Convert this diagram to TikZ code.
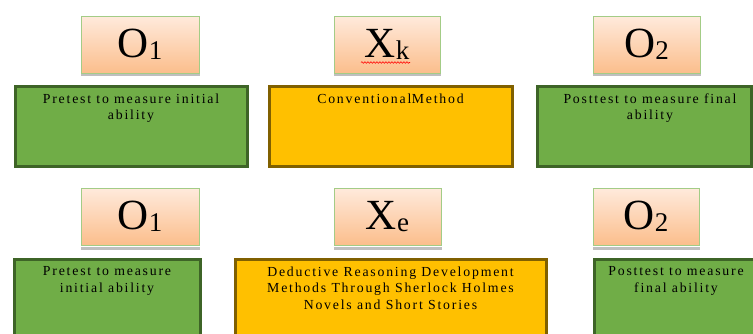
\documentclass[tikz,border=0pt]{standalone}
\usepackage{fontspec}
\setmainfont{Liberation Serif}
\newfontfamily\bodyfont{Liberation Serif}[LetterSpace=13]
\usetikzlibrary{decorations.pathmorphing}
\definecolor{hdrtop}{HTML}{FFEADC}
\definecolor{hdrbot}{HTML}{FBBE8C}
\definecolor{hdrline}{HTML}{A3CC86}
\definecolor{grfill}{HTML}{70AD47}
\definecolor{grline}{HTML}{3E6427}
\definecolor{orfill}{HTML}{FFC000}
\definecolor{orline}{HTML}{806000}
\tikzset{
  hdr/.style={draw=hdrline, line width=1pt, top color=hdrtop, bottom color=hdrbot,
    minimum width=#1, minimum height=57pt, inner sep=0pt, anchor=north west,
    font=\fontsize{43}{43}\selectfont},
  hdrshadow/.style={fill=black!25},
  grbox/.style={draw=grline, fill=grfill, line width=3pt, inner sep=0pt, anchor=north west},
  orbox/.style={draw=orline, fill=orfill, line width=3pt, inner sep=0pt, anchor=north west},
  btext/.style={anchor=north, align=center, inner sep=0pt,
    font=\bodyfont\fontsize{13.8}{16.5}\selectfont},
}
\newcommand{\subsc}[1]{{\fontsize{27}{27}\selectfont\raisebox{-1.5pt}{#1}}}
\begin{document}
\begin{tikzpicture}[x=1pt,y=-1pt]
\useasboundingbox (0,0) rectangle (753,333);
\clip (0,0) rectangle (753,333);
% ---------- top row ----------
\fill[hdrshadow] (81,73) rectangle (200,76);
\fill[hdrshadow] (334,73) rectangle (441,76);
\fill[hdrshadow] (593,73) rectangle (701,76);
\node[hdr=118pt] (o1a) at (80.5,15.5) {O\subsc{1}};
\node[hdr=106pt] (xk) at (333.5,15.5) {X\subsc{k}};
\node[hdr=107pt] (o2a) at (592.5,15.5) {O\subsc{2}};
\draw[red, line width=0.6pt, decorate, decoration={snake, amplitude=0.8pt, segment length=3pt}]
  ([xshift=-26pt,yshift=-18pt]xk.center) -- ([xshift=23pt,yshift=-18pt]xk.center);

\node[grbox, minimum width=232pt, minimum height=80pt] (g1) at (13.5,84.5) {};
\node[orbox, minimum width=243pt, minimum height=80pt] (c1) at (267.5,84.5) {};
\node[grbox, minimum width=214pt, minimum height=80pt] (g2) at (535.5,84.5) {};
\node[btext] (t1) at ([yshift=-9pt]g1.north) {Pretest to measure initial\\ability};
\node[btext] (t2) at ([yshift=-9pt]c1.north) {Conventional\hspace{0.5pt}Method};
\node[btext] (t3) at ([xshift=6pt,yshift=-9pt]g2.north) {Posttest to measure final\\ability};
% ---------- bottom row ----------
\fill[hdrshadow] (81,247) rectangle (200,250);
\fill[hdrshadow] (334,247) rectangle (442,250);
\fill[hdrshadow] (593,247) rectangle (700,250);
\node[hdr=118pt] (o1b) at (80.5,187.5) {O\subsc{1}};
\node[hdr=107pt] (xe) at (333.5,187.5) {X\subsc{e}};
\node[hdr=106pt] (o2b) at (592.5,187.5) {O\subsc{2}};

\node[grbox, minimum width=186pt, minimum height=100pt] (g3) at (12.5,257.5) {};
\node[orbox, minimum width=311pt, minimum height=100pt] (c2) at (233.5,257.5) {};
\node[grbox, minimum width=168pt, minimum height=100pt] (g4) at (592.5,257.5) {};
\node[btext] (t4) at ([yshift=-9pt]g3.north) {Pretest to measure\\initial ability};
\node[btext] (t5) at ([yshift=-9pt]c2.north) {Deductive Reasoning Development\\Methods Through Sherlock Holmes\\Novels and Short Stories};
\node[btext] (t6) at ([xshift=-2pt,yshift=-9pt]g4.north) {Posttest to measure\\final ability};
\end{tikzpicture}
\end{document}
